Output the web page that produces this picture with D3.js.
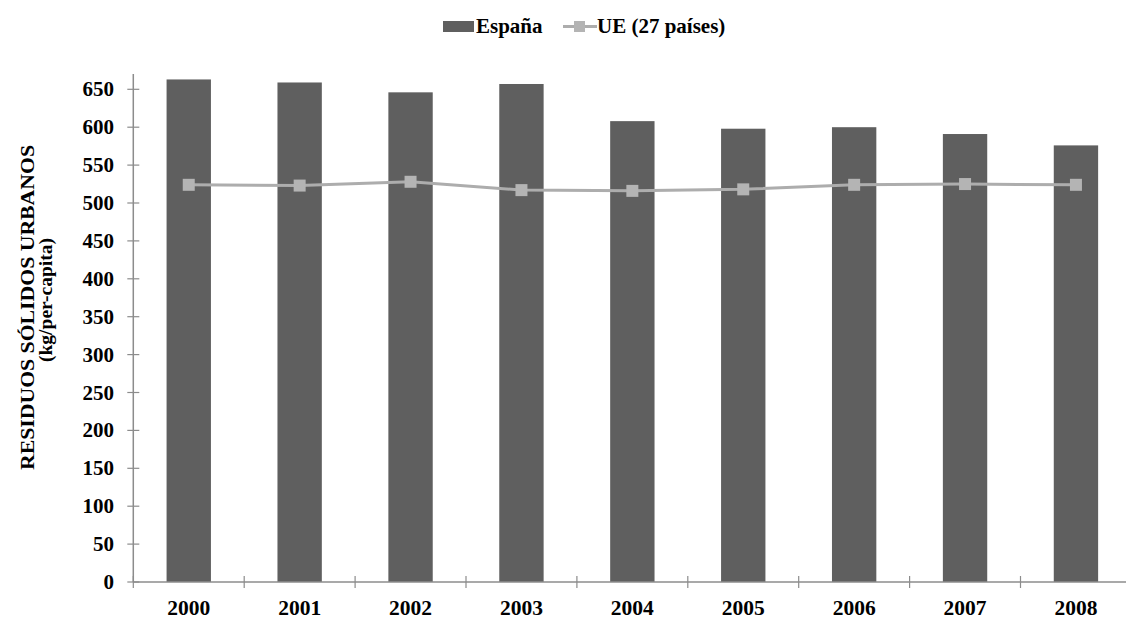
<!DOCTYPE html>
<html>
<head>
<meta charset="utf-8">
<script src="https://cdn.jsdelivr.net/npm/d3@7"></script>
<style>
  html, body { margin: 0; padding: 0; background: #fff; }
  svg { display: block; }
  text { font-family: "Liberation Serif", "Times New Roman", serif; font-weight: bold; fill: #000; }
</style>
</head>
<body>
<svg id="chart" width="1126" height="619"></svg>
<script>
// Municipal solid waste per capita (kg)
const years = ["2000", "2001", "2002", "2003", "2004", "2005", "2006", "2007", "2008"];
const spain = [663, 659, 646, 657, 608, 598, 600, 591, 576];
const eu27 = [524, 523, 528, 517, 516, 518, 524, 525, 524];
const yTicks = [0, 50, 100, 150, 200, 250, 300, 350, 400, 450, 500, 550, 600, 650];

const svg = d3.select("#chart");
const W = 1126, H = 619;
const plotLeft = 133.3, plotRight = 1131.4, plotTop = 74, plotBottom = 582;

const x = d3.scaleBand().domain(years).range([plotLeft, plotRight]).paddingInner(0.6).paddingOuter(0.3);
const xb = d3.scaleBand().domain(years).range([plotLeft, plotRight]).padding(0);
const y = d3.scaleLinear().domain([0, 670]).range([plotBottom, plotBottom - 670 * 0.758]);

const axisColor = "#8c8c8c";

// bars
svg.append("g").selectAll("rect").data(years).join("rect")
  .attr("x", d => x(d))
  .attr("width", x.bandwidth())
  .attr("y", (d, i) => y(spain[i]))
  .attr("height", (d, i) => y(0) - y(spain[i]))
  .attr("fill", "#5f5f5f");

// y axis
svg.append("line").attr("x1", plotLeft).attr("x2", plotLeft).attr("y1", plotTop).attr("y2", plotBottom)
  .attr("stroke", axisColor).attr("stroke-width", 1.5);
const yt = svg.append("g");
yt.selectAll("line").data(yTicks).join("line")
  .attr("x1", plotLeft - 6).attr("x2", plotLeft + 6)
  .attr("y1", d => y(d)).attr("y2", d => y(d))
  .attr("stroke", axisColor).attr("stroke-width", 1.2);
yt.selectAll("text").data(yTicks).join("text")
  .attr("x", 114).attr("y", d => y(d) + 7)
  .attr("text-anchor", "end")
  .style("font-size", "21px")
  .text(d => d);

// x axis
svg.append("line").attr("x1", plotLeft).attr("x2", W).attr("y1", plotBottom).attr("y2", plotBottom)
  .attr("stroke", axisColor).attr("stroke-width", 1.5);
const xTickPos = years.slice(1).map(d => xb(d)).concat([xb(years[0])]);
svg.append("g").selectAll("line").data(xTickPos).join("line")
  .attr("x1", d => d).attr("x2", d => d)
  .attr("y1", plotBottom - 6).attr("y2", plotBottom + 6)
  .attr("stroke", axisColor).attr("stroke-width", 1.2);
svg.append("g").selectAll("text").data(years).join("text")
  .attr("x", d => xb(d) + xb.bandwidth() / 2)
  .attr("y", 615)
  .attr("text-anchor", "middle")
  .style("font-size", "21.5px")
  .text(d => d);

// EU-27 line with square markers
const line = d3.line()
  .x((d, i) => x(years[i]) + x.bandwidth() / 2)
  .y(d => y(d));
svg.append("path").datum(eu27).attr("d", line)
  .attr("fill", "none").attr("stroke", "#adadad").attr("stroke-width", 3);
svg.append("g").selectAll("rect").data(eu27).join("rect")
  .attr("x", (d, i) => x(years[i]) + x.bandwidth() / 2 - 6)
  .attr("y", d => y(d) - 6)
  .attr("width", 12).attr("height", 12)
  .attr("fill", "#b4b4b4");

// y axis title (two lines)
svg.append("text")
  .attr("transform", "translate(33.5,307.5) rotate(-90)")
  .attr("text-anchor", "middle")
  .attr("textLength", 325).attr("lengthAdjust", "spacingAndGlyphs")
  .style("font-size", "19px")
  .text("RESIDUOS SÓLIDOS URBANOS");
svg.append("text")
  .attr("transform", "translate(51.5,300) rotate(-90)")
  .attr("text-anchor", "middle")
  .attr("textLength", 124).attr("lengthAdjust", "spacingAndGlyphs")
  .style("font-size", "18.5px")
  .text("(kg/per-capita)");

// legend
const lg = svg.append("g");
lg.append("rect").attr("x", 443).attr("y", 21).attr("width", 31).attr("height", 11).attr("fill", "#5f5f5f");
lg.append("text").attr("x", 476).attr("y", 33).style("font-size", "21px").text("España");
lg.append("line").attr("x1", 563).attr("x2", 597).attr("y1", 26.5).attr("y2", 26.5)
  .attr("stroke", "#adadad").attr("stroke-width", 3);
lg.append("rect").attr("x", 574).attr("y", 21).attr("width", 11).attr("height", 11).attr("fill", "#b4b4b4");
lg.append("text").attr("x", 597).attr("y", 33).style("font-size", "21px").text("UE (27 países)");
</script>
</body>
</html>
